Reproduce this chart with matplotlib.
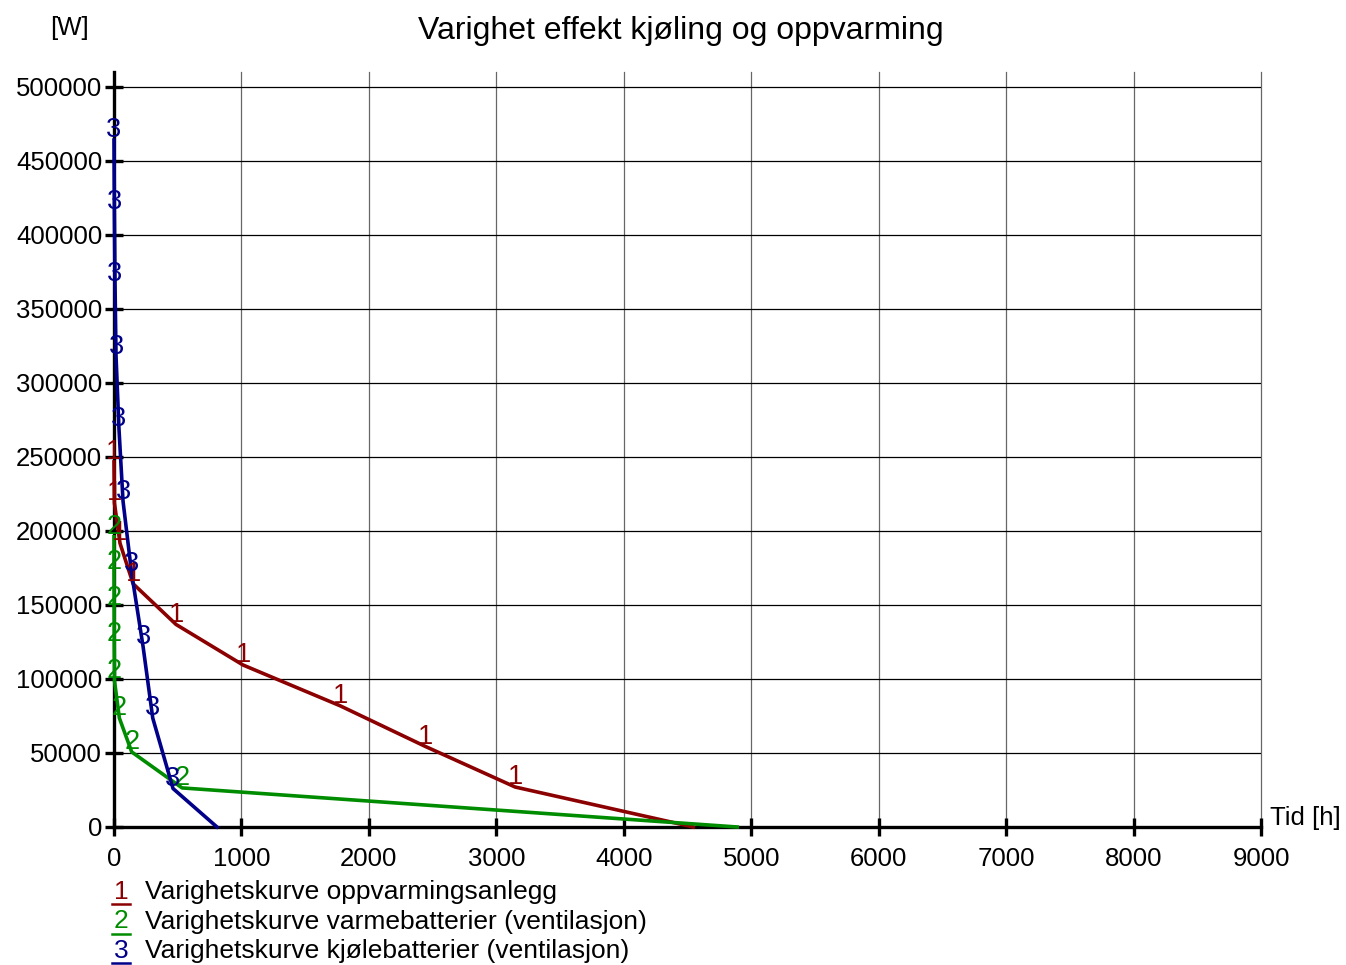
import matplotlib
matplotlib.use("Agg")
from matplotlib import pyplot as plt

plt.rcParams['font.family'] = ['Liberation Sans', 'DejaVu Sans']

# data (timer, effekt i W)
oppv_x = [0, 3, 47, 150, 487, 1013, 1774, 2441, 3148, 4545]
oppv_y = [246600, 219000, 191700, 164300, 136800, 109400, 81900, 54500, 27000, 0]

varme_x = [0, 0, 1, 2, 4, 42, 139, 534, 4890]
varme_y = [196000, 172300, 148000, 123600, 98600, 73600, 50700, 26400, 0]

kjol_x = [0, 3, 8, 16, 39, 71, 139, 228, 304, 463, 808]
kjol_y = [464000, 415500, 367000, 318000, 269000, 220000, 171000, 122000, 73600, 26000, 0]

series = [
    (oppv_x, oppv_y, '#8b0000', '1', 'Varighetskurve oppvarmingsanlegg'),
    (varme_x, varme_y, '#008c00', '2', 'Varighetskurve varmebatterier (ventilasjon)'),
    (kjol_x, kjol_y, '#000088', '3', 'Varighetskurve kjølebatterier (ventilasjon)'),
]

x_ticks = list(range(0, 9001, 1000))
y_ticks = list(range(0, 500001, 50000))

fig = plt.figure(figsize=(13.46, 9.65), dpi=100)
ax = fig.add_axes([114 / 1346, 1 - 827 / 965, (1261 - 114) / 1346, (827 - 72) / 965])

ax.set_xlim(0, 9000)
ax.set_ylim(0, 510000)

# gitter
for xv in x_ticks[1:]:
    ax.axvline(xv, color='black', lw=0.9, alpha=0.6, zorder=1, clip_on=False)
for yv in y_ticks[1:]:
    ax.axhline(yv, color='black', lw=0.9, zorder=1)

for xs, ys, col, num, name in series:
    ax.plot(xs, ys, color=col, lw=2.6, zorder=3, clip_on=False)
    for xv, yv in zip(xs[:-1], ys[:-1]):
        ax.annotate(num, (xv, yv), xytext=(0, 7), textcoords='offset points',
                    ha='center', va='center', color=col, fontsize=19.5, zorder=4)

for s in ['top', 'right']:
    ax.spines[s].set_visible(False)
ax.spines['left'].set_linewidth(2.4)
ax.spines['bottom'].set_linewidth(2.4)

ax.set_xticks(x_ticks)
ax.set_yticks(y_ticks)
ax.tick_params(direction='inout', length=13, width=2.4, labelsize=18.5)
ax.tick_params(axis='x', pad=8)
ax.tick_params(axis='y', pad=2)

fig.text(681 / 1346, 1 - 31 / 965, 'Varighet effekt kjøling og oppvarming',
         ha='center', va='center', fontsize=23)
fig.text(70 / 1346, 1 - 28 / 965, '[W]', ha='center', va='center', fontsize=18.5)
fig.text(1270 / 1346, 1 - 818 / 965, 'Tid [h]', ha='left', va='center', fontsize=18.5)

# forklaring
for i, (xs, ys, col, num, name) in enumerate(series):
    yy = 1 - (892 + i * 29.5) / 965
    fig.text(121 / 1346, yy, num, color=col, ha='center', va='center', fontsize=19)
    fig.add_artist(plt.Line2D([112 / 1346, 130 / 1346], [yy - 12 / 965, yy - 12 / 965],
                              color=col, lw=1.8))
    fig.text(145 / 1346, yy, name, ha='left', va='center', fontsize=19)

plt.savefig('out.png', dpi=100)
